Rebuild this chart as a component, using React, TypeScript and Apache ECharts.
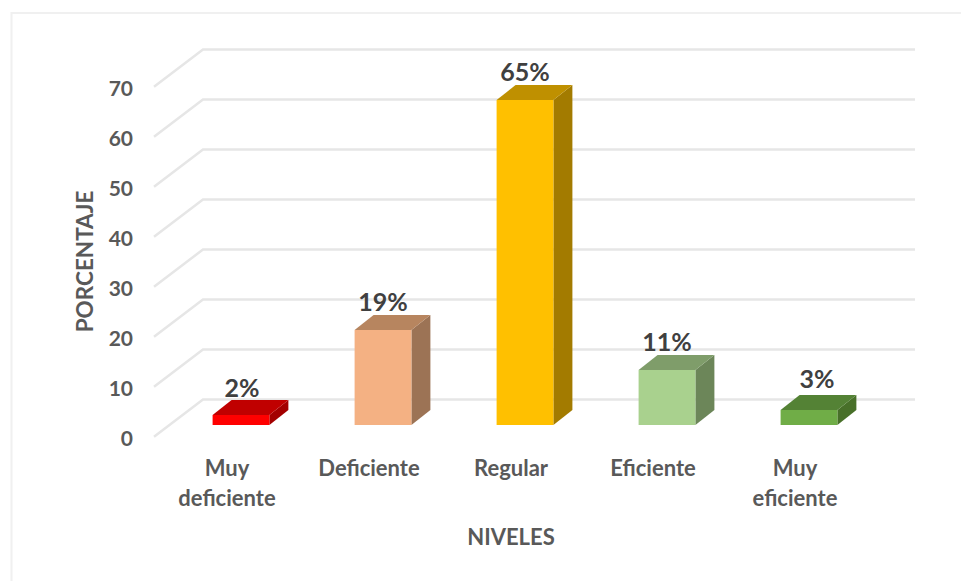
import React, { useEffect, useRef } from "react";
import * as echarts from "echarts";

const categories = ["Muy\ndeficiente", "Deficiente", "Regular", "Eficiente", "Muy\neficiente"];
const percentages = [2, 19, 65, 11, 3];
const gridTicks = [0, 10, 20, 30, 40, 50, 60, 70];

const frontColors = ["#ff0000", "#f4b183", "#ffc000", "#a9d18e", "#70ad47"];
const topColors = ["#c00000", "#b7855f", "#bf9000", "#7f9d6a", "#548235"];
const sideColors = ["#a30000", "#9c7355", "#a37b00", "#6c8659", "#487029"];
const labelNudgeX = [1, 0, 0, 0, 8];
const labelNudgeY = [0, -1, -1, -1, -4];

const FONT = "Lato, Carlito, Calibri, sans-serif";
const DEPTH_X = 19;
const DEPTH_Y = 15;

export default function App() {
  const ref = useRef<HTMLDivElement>(null);
  useEffect(() => {
    const chart = echarts.init(ref.current!, null, { renderer: "svg" });
    chart.setOption({
      animation: false,
      backgroundColor: "#ffffff",
      graphic: [
        {
          type: "polyline",
          silent: true,
          shape: { points: [[11.5, 581], [11.5, 13], [961, 13]] },
          style: { fill: "none", stroke: "#f0f0f0", lineWidth: 2 },
        },
      ],
      grid: { left: 156, top: 75, width: 710, height: 350 },
      xAxis: {
        type: "category",
        data: categories,
        axisLine: { show: false },
        axisTick: { show: false },
        axisLabel: {
          fontFamily: FONT,
          fontWeight: "bold",
          fontSize: 22,
          color: "#595959",
          lineHeight: 30,
          margin: 27,
        },
        name: "NIVELES",
        nameLocation: "middle",
        nameGap: 100,
        nameTextStyle: { fontFamily: FONT, fontWeight: "bold", fontSize: 22, color: "#595959" },
      },
      yAxis: {
        type: "value",
        min: 0,
        max: 70,
        interval: 10,
        splitLine: { show: false },
        axisLine: { show: false },
        axisTick: { show: false },
        axisLabel: {
          fontFamily: FONT,
          fontWeight: "bold",
          fontSize: 21,
          color: "#595959",
          margin: 23,
          verticalAlign: "top",
          lineHeight: 25,
        },
        name: "PORCENTAJE",
        nameLocation: "middle",
        nameGap: 60,
        nameTextStyle: {
          fontFamily: FONT,
          fontWeight: "bold",
          fontSize: 22.5,
          color: "#595959",
          padding: [0, 23, 0, 0],
        },
      },
      series: [
        {
          type: "custom",
          name: "Rejilla",
          clip: false,
          silent: true,
          z: 1,
          data: gridTicks.map((t) => [0, t]),
          encode: { x: 0, y: 1 },
          renderItem: (params: any, api: any) => {
            const y = api.coord([0, api.value(1)])[1];
            const x0 = params.coordSys.x;
            return {
              type: "polyline",
              shape: {
                points: [
                  [x0 - 2, y + 11.7],
                  [x0 + 47, y - 25.5],
                  [x0 + 759, y - 25.5],
                ],
              },
              style: { fill: "none", stroke: "#e6e6e6", lineWidth: 2.5 },
            };
          },
        },
        {
          type: "custom",
          name: "Porcentaje",
          clip: false,
          z: 2,
          data: percentages.map((v, i) => [i, v]),
          encode: { x: 0, y: 1 },
          renderItem: (_params: any, api: any) => {
            const i = api.value(0);
            const v = api.value(1);
            const [cx, top] = api.coord([i, v]);
            const bottom = api.coord([i, 0])[1];
            const band = api.size([1, 0])[0];
            const w = band * 0.4;
            const l = cx + 14 - w / 2;
            const r = l + w;
            const dx = DEPTH_X;
            const dy = DEPTH_Y;
            return {
              type: "group",
              children: [
                {
                  type: "polygon",
                  shape: { points: [[r, top], [r + dx, top - dy], [r + dx, bottom - dy], [r, bottom]] },
                  style: { fill: sideColors[i] },
                },
                {
                  type: "polygon",
                  shape: { points: [[l, top], [l + dx, top - dy], [r + dx, top - dy], [r, top]] },
                  style: { fill: topColors[i] },
                },
                {
                  type: "rect",
                  shape: { x: l, y: top, width: w, height: bottom - top },
                  style: { fill: frontColors[i] },
                },
                {
                  type: "text",
                  style: {
                    x: (l + r) / 2 + labelNudgeX[i],
                    y: top - dy - 13 + labelNudgeY[i],
                    text: `${v}%`,
                    fontFamily: FONT,
                    fontWeight: "bold",
                    fontSize: 25,
                    fill: "#404040",
                    align: "center",
                    verticalAlign: "middle",
                  },
                },
              ],
            };
          },
        },
      ],
    });
    return () => chart.dispose();
  }, []);
  return <div ref={ref} style={{ position: "absolute", left: 0, top: 0, width: 961, height: 581 }} />;
}
